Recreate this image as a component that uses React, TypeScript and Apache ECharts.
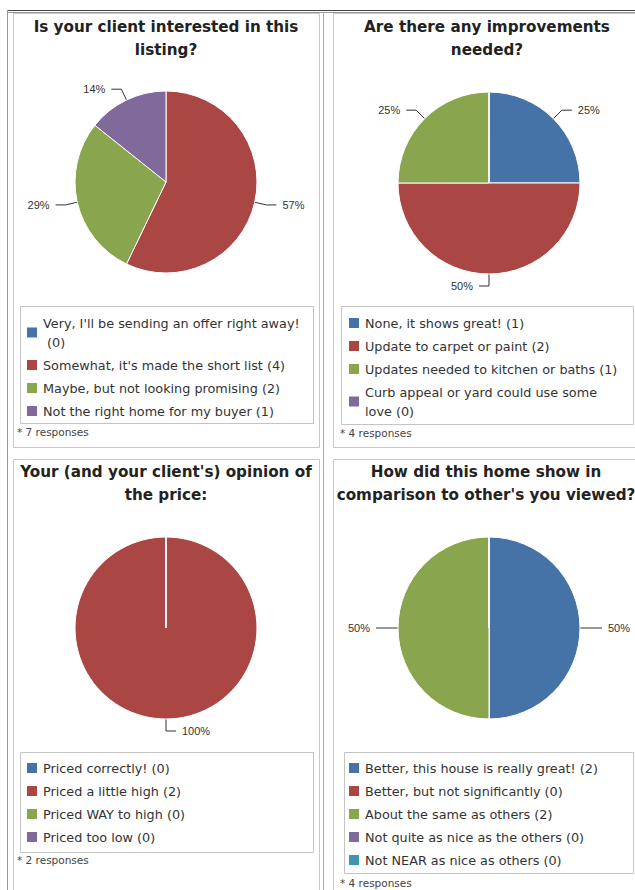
import React, { useEffect, useRef } from "react";
import * as echarts from "echarts";

const palette = ["#4572A7", "#AA4643", "#89A54E", "#80699B", "#3D96AE"];

const titles = [
  "Is your client interested in this\nlisting?",
  "Are there any improvements\nneeded?",
  "Your (and your client's) opinion of\nthe price:",
  "How did this home show in\ncomparison to other's you viewed?",
];

const q1Labels = [
  "Very, I'll be sending an offer right away!",
  "Somewhat, it's made the short list",
  "Maybe, but not looking promising",
  "Not the right home for my buyer",
];
const q1Counts = [0, 4, 2, 1];

const q2Labels = [
  "None, it shows great!",
  "Update to carpet or paint",
  "Updates needed to kitchen or baths",
  "Curb appeal or yard could use some love",
];
const q2Counts = [1, 2, 1, 0];

const q3Labels = [
  "Priced correctly!",
  "Priced a little high",
  "Priced WAY to high",
  "Priced too low",
];
const q3Counts = [0, 2, 0, 0];

const q4Labels = [
  "Better, this house is really great!",
  "Better, but not significantly",
  "About the same as others",
  "Not quite as nice as the others",
  "Not NEAR as nice as others",
];
const q4Counts = [2, 0, 2, 0, 0];

const responses = ["* 7 responses", "* 4 responses", "* 2 responses", "* 4 responses"];

const FONT = "'DejaVu Sans', Verdana, sans-serif";
const LABEL_FONT = "'Liberation Sans', Arial, sans-serif";

// layout per panel
const panels = [
  { cx: 166, cy: 182, start: 90, titleX: 166, titleTop: 15.5, legendX: 25, legendTop: 313.5, respX: 17, respY: 432, box: [20, 306, 313, 423] },
  { cx: 489, cy: 183, start: 89.99, titleX: 487, titleTop: 15.5, legendX: 347, legendTop: 313.5, respX: 340, respY: 433, box: [341, 306, 633, 424] },
  { cx: 166, cy: 628, start: 90, titleX: 166, titleTop: 460.5, legendX: 25, legendTop: 758.5, respX: 17, respY: 860, box: [20, 752, 313, 852] },
  { cx: 489, cy: 628, start: 90, titleX: 486, titleTop: 460.5, legendX: 347, legendTop: 758.5, respX: 340, respY: 883, box: [344, 752, 633, 873] },
];

const questions = [
  { labels: q1Labels, counts: q1Counts },
  { labels: q2Labels, counts: q2Counts },
  { labels: q3Labels, counts: q3Counts },
  { labels: q4Labels, counts: q4Counts },
];

export default function App() {
  const ref = useRef<HTMLDivElement>(null);
  useEffect(() => {
    document.body.style.margin = "0";
    if (!ref.current) return;
    const chart = echarts.init(ref.current, null, { renderer: "svg" });

    const names = questions.map((q) => q.labels.map((l, i) => `${l} (${q.counts[i]})`));

    const series = questions.map((q, pi) => ({
      type: "pie",
      center: [panels[pi].cx, panels[pi].cy],
      radius: 91,
      startAngle: panels[pi].start,
      clockwise: true,
      percentPrecision: 0,
      avoidLabelOverlap: false,
      silent: true,
      itemStyle: { borderColor: "#ffffff", borderWidth: 1 },
      label: {
        show: true,
        position: "outside",
        formatter: "{d}%",
        fontSize: 11,
        color: "#333",
        fontFamily: LABEL_FONT,
        distanceToLabelLine: 6,
      },
      labelLine: { show: true, length: 12, length2: 10, lineStyle: { color: "#333", width: 1 } },
      data: q.counts.map((v, i) => ({
        name: names[pi][i],
        value: v,
        itemStyle: { color: palette[i] },
        label: { show: v > 0 },
        labelLine: { show: v > 0 },
      })),
    }));

    const legends = questions.map((q, pi) => ({
      data: names[pi],
      orient: "vertical",
      left: panels[pi].legendX,
      top: panels[pi].legendTop,
      padding: 0,
      itemGap: 4,
      itemWidth: 12,
      itemHeight: 12,
      icon: "rect",
      selectedMode: false,
      textStyle: {
        fontSize: 12.8,
        lineHeight: 19,
        color: "#333",
        fontFamily: FONT,
        width: 259,
        overflow: "break",
      },
    }));

    const title = titles.map((t, pi) => ({
      text: t,
      left: panels[pi].titleX,
      top: panels[pi].titleTop,
      textAlign: "center",
      padding: 0,
      textStyle: { fontSize: 15.2, fontWeight: "bold", lineHeight: 23, color: "#222", fontFamily: FONT },
    }));

    const L = (x1: number, y1: number, x2: number, y2: number, stroke: string) => ({
      type: "line",
      silent: true,
      shape: { x1, y1, x2, y2 },
      style: { stroke, lineWidth: 1 },
    });

    const graphic: any[] = [
      L(7, 10.5, 635, 10.5, "#444"),
      L(7, 12.5, 635, 12.5, "#999"),
      L(7.5, 10, 7.5, 890, "#999"),
      L(323.5, 12, 323.5, 890, "#aaa"),
      { type: "rect", silent: true, shape: { x: 13.5, y: 13.5, width: 306, height: 434 }, style: { fill: "none", stroke: "#c8c8c8", lineWidth: 1 } },
      { type: "rect", silent: true, shape: { x: 333.5, y: 13.5, width: 310, height: 434 }, style: { fill: "none", stroke: "#c8c8c8", lineWidth: 1 } },
      { type: "rect", silent: true, shape: { x: 13.5, y: 459.5, width: 306, height: 440 }, style: { fill: "none", stroke: "#c8c8c8", lineWidth: 1 } },
      { type: "rect", silent: true, shape: { x: 333.5, y: 459.5, width: 310, height: 440 }, style: { fill: "none", stroke: "#c8c8c8", lineWidth: 1 } },
    ];
    panels.forEach((p, pi) => {
      const [x1, y1, x2, y2] = p.box;
      graphic.push({
        type: "rect",
        silent: true,
        shape: { x: x1 + 0.5, y: y1 + 0.5, width: x2 - x1, height: y2 - y1 },
        style: { fill: "none", stroke: "#c4c4c4", lineWidth: 1 },
      });
      graphic.push({
        type: "text",
        silent: true,
        x: p.respX,
        y: p.respY,
        style: { text: responses[pi], fontSize: 10.5, fontFamily: FONT, fill: "#444", verticalAlign: "middle" },
      });
    });

    chart.setOption({
      animation: false,
      backgroundColor: "#ffffff",
      title,
      legend: legends,
      series,
      graphic,
    } as any);
    return () => chart.dispose();
  }, []);
  return <div ref={ref} style={{ width: 635, height: 890 }} />;
}
